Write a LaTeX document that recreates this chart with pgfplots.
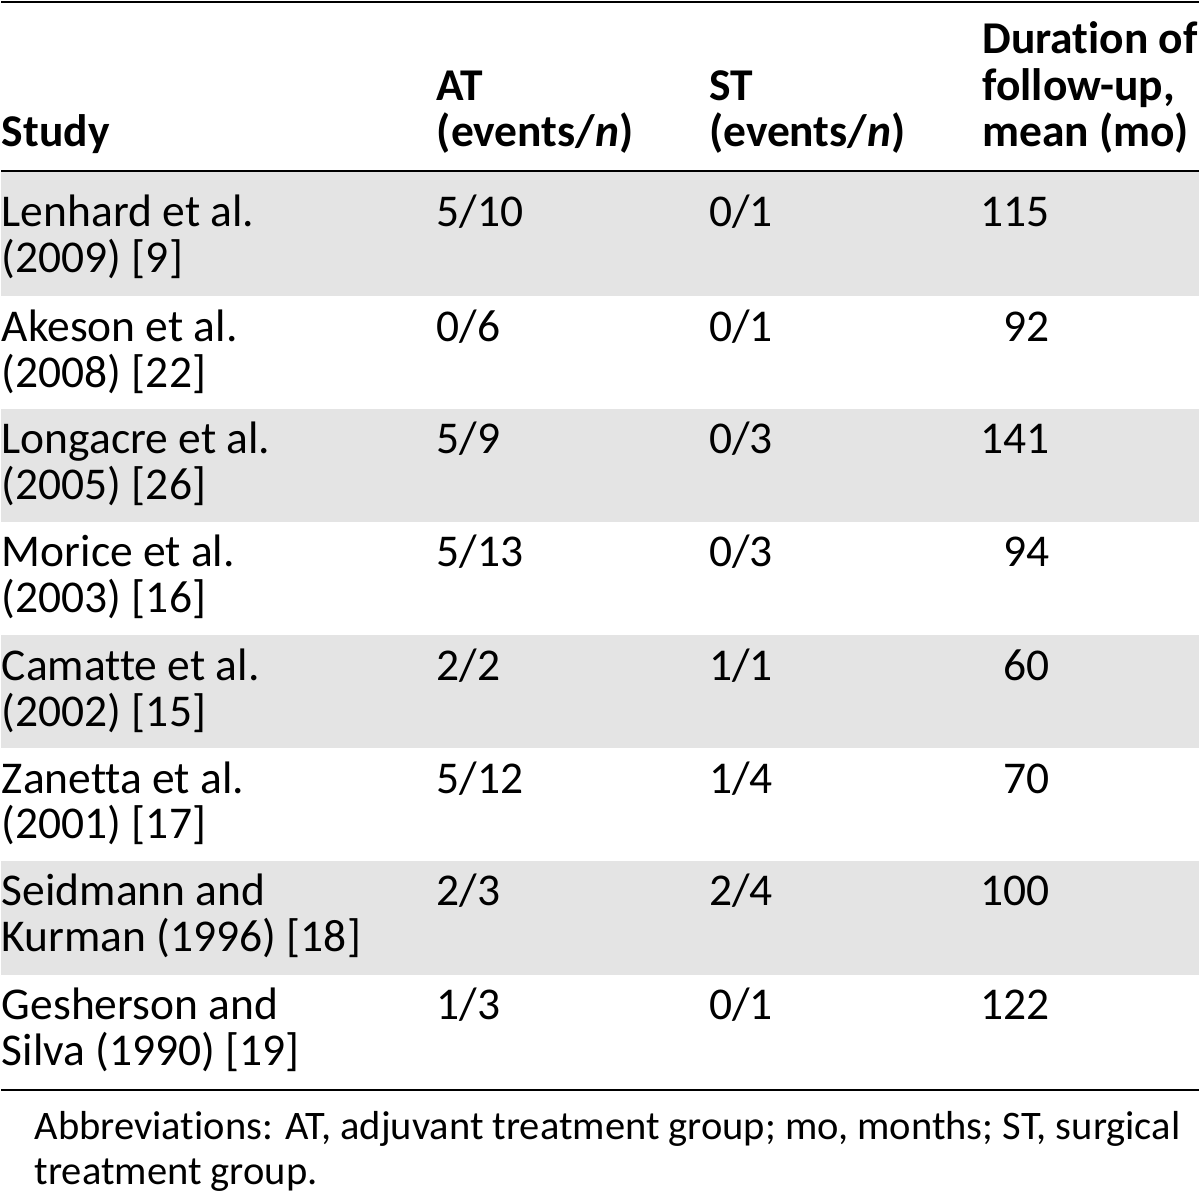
\documentclass[border=0pt]{standalone}
\usepackage{fontspec}
\setmainfont{Carlito}[Ligatures=NoCommon]
\usepackage{pgfplots}
\pgfplotsset{compat=1.18}
\definecolor{rowgray}{RGB}{228,228,228}
\newcommand{\body}{\fontsize{22.8}{23}\selectfont}
\newcommand{\foot}{\fontsize{20.3}{22}\selectfont}
\begin{document}
\begin{tikzpicture}
\begin{axis}[
  scale only axis, width=600pt, height=598pt,
  xmin=0, xmax=1200, ymin=0, ymax=1196, y dir=reverse,
  hide axis, clip=false]
% bounding box
\path[draw=none] (axis cs:0,0) rectangle (axis cs:1200,1196);
% shaded rows
\fill[rowgray] (axis cs:0,172) rectangle (axis cs:1200,297);
\fill[rowgray] (axis cs:0,410) rectangle (axis cs:1200,523);
\fill[rowgray] (axis cs:0,637) rectangle (axis cs:1200,750);
\fill[rowgray] (axis cs:0,863) rectangle (axis cs:1200,977);
% rules
\draw[line width=1.5pt] (axis cs:0,2) -- (axis cs:1200,2);
\draw[line width=1pt] (axis cs:0,171) -- (axis cs:1200,171);
\draw[line width=1pt] (axis cs:0,1093) -- (axis cs:1200,1093);
% header
\begin{scope}[every node/.style={inner sep=0pt, anchor=base west, font=\body\bfseries}]
\node at (axis cs:0,147) {Study};
\node at (axis cs:436,101) {AT};
\node at (axis cs:436,147) {(events/\textit{n})};
\node at (axis cs:709,101) {ST};
\node at (axis cs:709,147) {(events/\textit{n})};
\node at (axis cs:983,54) {Duration of};
\node at (axis cs:983,101) {follow-up,};
\node at (axis cs:983,147) {mean (mo)};
\end{scope}
% body
\begin{scope}[every node/.style={inner sep=0pt, anchor=base west, font=\body}]
\node at (axis cs:0,227) {Lenhard et al.};
\node at (axis cs:0,273) {(2009) [9]};
\node at (axis cs:436,227) {5/10};
\node at (axis cs:709,227) {0/1};
\node[anchor=base east] at (axis cs:1051,227) {115};
\node at (axis cs:0,342) {Akeson et al.};
\node at (axis cs:0,388) {(2008) [22]};
\node at (axis cs:436,342) {0/6};
\node at (axis cs:709,342) {0/1};
\node[anchor=base east] at (axis cs:1051,342) {92};
\node at (axis cs:0,455) {Longacre et al.};
\node at (axis cs:0,501) {(2005) [26]};
\node at (axis cs:436,455) {5/9};
\node at (axis cs:709,455) {0/3};
\node[anchor=base east] at (axis cs:1051,455) {141};
\node at (axis cs:0,568) {Morice et al.};
\node at (axis cs:0,614) {(2003) [16]};
\node at (axis cs:436,568) {5/13};
\node at (axis cs:709,568) {0/3};
\node[anchor=base east] at (axis cs:1051,568) {94};
\node at (axis cs:0,682) {Camatte et al.};
\node at (axis cs:0,728) {(2002) [15]};
\node at (axis cs:436,682) {2/2};
\node at (axis cs:709,682) {1/1};
\node[anchor=base east] at (axis cs:1051,682) {60};
\node at (axis cs:0,795) {Zanetta et al.};
\node at (axis cs:0,841) {(2001) [17]};
\node at (axis cs:436,795) {5/12};
\node at (axis cs:709,795) {1/4};
\node[anchor=base east] at (axis cs:1051,795) {70};
\node at (axis cs:0,908) {Seidmann and};
\node at (axis cs:0,954) {Kurman (1996) [18]};
\node at (axis cs:436,908) {2/3};
\node at (axis cs:709,908) {2/4};
\node[anchor=base east] at (axis cs:1051,908) {100};
\node at (axis cs:0,1022) {Gesherson and};
\node at (axis cs:0,1068) {Silva (1990) [19]};
\node at (axis cs:436,1022) {1/3};
\node at (axis cs:709,1022) {0/1};
\node[anchor=base east] at (axis cs:1051,1022) {122};
\end{scope}
% footnote
\begin{scope}[every node/.style={inner sep=0pt, anchor=base west, font=\foot}]
\node at (axis cs:33,1142) {Abbreviations: AT, adjuvant treatment group; mo, months; ST, surgical};
\node at (axis cs:33,1187) {treatment group.};
\end{scope}
\end{axis}
\end{tikzpicture}
\end{document}
